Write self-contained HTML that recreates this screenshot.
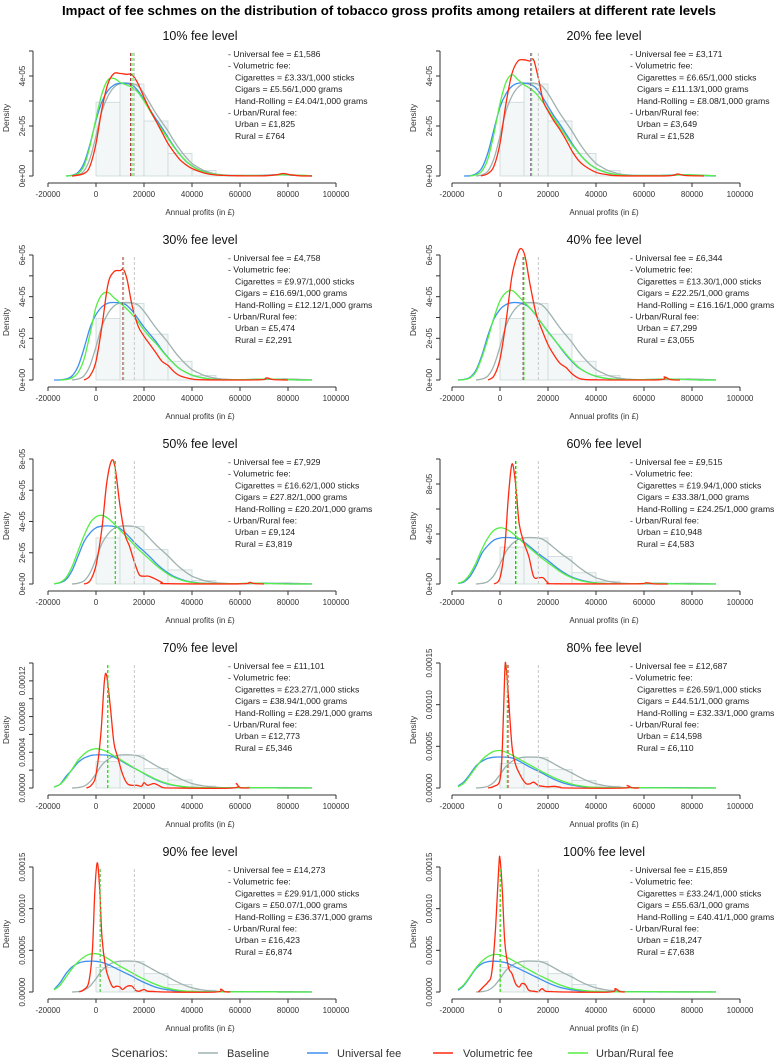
<!DOCTYPE html>
<html><head><meta charset="utf-8">
<style>
html,body{margin:0;padding:0;background:#fff;}
svg{display:block;font-family:"Liberation Sans",sans-serif;}
</style></head>
<body>
<svg id="chart" width="778" height="1060" viewBox="0 0 778 1060" xmlns="http://www.w3.org/2000/svg">
<text x="389" y="15" text-anchor="middle" font-size="12.5" font-weight="bold" textLength="654" lengthAdjust="spacingAndGlyphs">Impact of fee schmes on the distribution of tobacco gross profits among retailers at different rate levels</text>
<g id="panels"></g>
<g>
<text x="168" y="1057" text-anchor="end" font-size="12" fill="#333">Scenarios:</text>
<line x1="198" y1="1053" x2="218" y2="1053" stroke="#9fb2b0" stroke-width="1.5"/>
<text x="227" y="1057" font-size="11" fill="#333">Baseline</text>
<line x1="307" y1="1053" x2="328" y2="1053" stroke="#3d8ff0" stroke-width="1.5"/>
<text x="337" y="1057" font-size="11" fill="#333">Universal fee</text>
<line x1="433" y1="1053" x2="453" y2="1053" stroke="#ff2a10" stroke-width="1.5"/>
<text x="463" y="1057" font-size="11" fill="#333">Volumetric fee</text>
<line x1="568" y1="1053" x2="588" y2="1053" stroke="#55ee44" stroke-width="1.5"/>
<text x="596" y="1057" font-size="11" fill="#333">Urban/Rural fee</text>
</g>
</svg>
<script>
// x grid for baseline / universal / urban-rural densities (£)
const grid = [-17500,-15000,-12500,-10000,-7500,-5000,-2500,0,2500,5000,7500,10000,12500,15000,17500,20000,22500,25000,27500,30000,32500,35000,37500,40000,42500,45000,47500,50000,52500,55000,57500,60000,62500,65000,67500,70000,72500,75000,77500,80000,82500,85000,87500,90000];
// densities in units of 1e-05
const baseline = [0,0,0,0,0.05,0.2,0.7,1.6,2.6,3.2,3.55,3.7,3.72,3.7,3.6,3.3,2.9,2.5,2.15,1.8,1.4,1.05,0.75,0.5,0.35,0.22,0.14,0.08,0.05,0.03,0.02,0.02,0.02,0.02,0.02,0.02,0.03,0.04,0.05,0.05,0.04,0.03,0.02,0.01];
const histEdges = [0,10000,20000,30000,40000,50000,60000];
const histHeights = [2.95,3.68,2.2,0.9,0.22,0.02];

const feeLevels = ["10%","20%","30%","40%","50%","60%","70%","80%","90%","100%"];
const universalFee = ["£1,586","£3,171","£4,758","£6,344","£7,929","£9,515","£11,101","£12,687","£14,273","£15,859"];
const cigFee = ["£3.33","£6.65","£9.97","£13.30","£16.62","£19.94","£23.27","£26.59","£29.91","£33.24"];
const cigarFee = ["£5.56","£11.13","£16.69","£22.25","£27.82","£33.38","£38.94","£44.51","£50.07","£55.63"];
const hrFee = ["£4.04","£8.08","£12.12","£16.16","£20.20","£24.25","£28.29","£32.33","£36.37","£40.41"];
const urbanFee = ["£1,825","£3,649","£5,474","£7,299","£9,124","£10,948","£12,773","£14,598","£16,423","£18,247"];
const ruralFee = ["£764","£1,528","£2,291","£3,055","£3,819","£4,583","£5,346","£6,110","£6,874","£7,638"];

const yMax = [5,5,6,6,8,10,14,15,15,15];
const baselineMean = 16000;
const universalMean = [14414,12829,11242,9656,8071,6485,4899,3313,1727,141];
const volumetricMean = [14500,13000,11300,9700,8100,6500,4900,3300,1700,150];
const urbanMean = [15400,13200,11500,10000,8000,6700,5000,3000,1700,150];

const universal = [
[0,0,0,0.03,0.14,0.51,1.27,2.23,2.98,3.42,3.64,3.71,3.71,3.64,3.41,3.05,2.65,2.28,1.93,1.55,1.18,0.86,0.59,0.41,0.27,0.17,0.1,0.06,0.04,0.02,0.02,0.02,0.02,0.02,0.02,0.03,0.04,0.05,0.05,0.04,0.03,0.02,0.01,0],
[0,0,0.01,0.09,0.33,0.94,1.87,2.76,3.29,3.59,3.71,3.72,3.67,3.52,3.19,2.79,2.4,2.06,1.69,1.31,0.97,0.68,0.46,0.31,0.2,0.12,0.07,0.045,0.03,0.02,0.02,0.02,0.02,0.02,0.023,0.033,0.043,0.05,0.047,0.037,0.027,0.017,0.007,0],
[0,0.005,0.05,0.19,0.65,1.51,2.5,3.14,3.52,3.69,3.72,3.7,3.61,3.33,2.94,2.54,2.19,1.84,1.44,1.09,0.78,0.53,0.37,0.23,0.15,0.09,0.05,0.03,0.02,0.02,0.02,0.02,0.02,0.03,0.04,0.05,0.05,0.04,0.03,0.02,0.01,0,0,0],
[0,0.03,0.13,0.47,1.2,2.15,2.93,3.39,3.62,3.71,3.71,3.65,3.45,3.1,2.7,2.33,1.96,1.58,1.21,0.89,0.61,0.43,0.28,0.18,0.11,0.065,0.04,0.025,0.02,0.02,0.02,0.02,0.025,0.035,0.045,0.05,0.045,0.035,0.025,0.015,0,0,0,0],
[0.01,0.08,0.28,0.85,1.77,2.7,3.26,3.6,3.7,3.72,3.68,3.55,3.23,2.83,2.43,2.09,1.73,1.33,0.99,0.71,0.48,0.32,0.2,0.13,0.07,0.045,0.03,0.02,0.02,0.02,0.02,0.02,0.03,0.04,0.05,0.05,0.04,0.03,0.02,0.01,0,0,0,0],
[0.04,0.17,0.6,1.43,2.48,3.09,3.51,3.68,3.72,3.7,3.62,3.36,2.98,2.58,2.22,1.87,1.48,1.12,0.81,0.55,0.38,0.25,0.16,0.09,0.06,0.035,0.02,0.02,0.02,0.02,0.02,0.03,0.04,0.05,0.05,0.04,0.03,0.02,0.01,0,0,0,0,0],
[0.12,0.42,1.3,2.04,2.86,3.35,3.62,3.71,3.71,3.66,3.47,3.12,2.72,2.35,1.99,1.62,1.25,0.92,0.64,0.44,0.29,0.19,0.11,0.07,0.04,0.02,0.02,0.02,0.02,0.02,0.03,0.04,0.05,0.05,0.04,0.03,0.02,0.01,0,0,0,0,0,0],
[0.23,0.76,1.67,2.65,3.22,3.56,3.7,3.72,3.7,3.6,3.3,2.9,2.5,2.15,1.8,1.4,1.05,0.75,0.5,0.35,0.22,0.14,0.08,0.05,0.03,0.02,0.02,0.02,0.02,0.02,0.02,0.03,0.04,0.05,0.05,0.04,0.03,0.02,0.01,0,0,0,0,0],
[0.3,1.1,2.2,3.0,3.45,3.65,3.7,3.68,3.55,3.3,2.95,2.6,2.25,1.9,1.5,1.15,0.84,0.57,0.39,0.26,0.16,0.1,0.06,0.035,0.02,0.02,0.02,0.02,0.02,0.02,0.03,0.04,0.05,0.05,0.04,0.03,0.02,0.01,0,0,0,0,0,0],
[0.2,0.8,1.8,2.8,3.4,3.65,3.7,3.65,3.5,3.2,2.85,2.5,2.15,1.8,1.45,1.1,0.8,0.55,0.38,0.25,0.16,0.1,0.06,0.04,0.02,0.02,0.02,0.02,0.03,0.04,0.04,0.03,0.02,0.01,0,0,0,0,0,0,0,0,0,0]
];
const urbanRural = [
[0,0,0,0.02,0.1,0.4,1.2,2.3,3.3,3.85,3.9,3.75,3.65,3.55,3.35,3.0,2.6,2.2,1.85,1.5,1.15,0.85,0.6,0.4,0.26,0.16,0.1,0.06,0.04,0.02,0.02,0.02,0.02,0.02,0.02,0.02,0.03,0.04,0.05,0.05,0.04,0.03,0.02,0.01],
[0,0,0,0.05,0.2,0.7,1.7,2.9,3.75,4.05,3.85,3.65,3.5,3.3,3.0,2.65,2.3,1.95,1.6,1.25,0.95,0.68,0.46,0.31,0.2,0.12,0.07,0.045,0.03,0.02,0.02,0.02,0.02,0.02,0.02,0.025,0.035,0.045,0.05,0.045,0.035,0.025,0.015,0.005],
[0,0,0.02,0.1,0.35,1.0,2.2,3.5,4.1,4.2,3.95,3.7,3.45,3.15,2.8,2.4,2.05,1.75,1.4,1.07,0.78,0.53,0.37,0.23,0.15,0.09,0.05,0.03,0.02,0.02,0.02,0.02,0.02,0.03,0.04,0.05,0.05,0.04,0.03,0.02,0.01,0,0,0],
[0,0.02,0.1,0.4,1.1,2.0,3.0,3.8,4.2,4.3,4.05,3.75,3.45,3.1,2.7,2.3,1.95,1.6,1.25,0.92,0.64,0.43,0.28,0.18,0.11,0.07,0.04,0.03,0.02,0.02,0.02,0.02,0.025,0.035,0.045,0.05,0.045,0.035,0.025,0.015,0.005,0,0,0],
[0.02,0.1,0.4,1.1,2.1,3.1,3.9,4.3,4.4,4.2,3.85,3.45,3.05,2.65,2.25,1.9,1.55,1.2,0.9,0.63,0.43,0.28,0.17,0.1,0.06,0.04,0.03,0.02,0.02,0.02,0.02,0.03,0.04,0.05,0.05,0.04,0.03,0.02,0.01,0,0,0,0,0],
[0.05,0.25,0.8,1.7,2.8,3.7,4.3,4.5,4.4,4.1,3.7,3.25,2.85,2.45,2.05,1.7,1.35,1.0,0.72,0.5,0.33,0.21,0.13,0.08,0.05,0.03,0.02,0.02,0.02,0.02,0.03,0.04,0.05,0.05,0.04,0.03,0.02,0.01,0,0,0,0,0,0],
[0.1,0.4,1.1,2.1,3.1,3.8,4.25,4.4,4.3,4.0,3.6,3.2,2.8,2.4,2.0,1.65,1.3,0.98,0.7,0.48,0.32,0.2,0.12,0.07,0.05,0.03,0.02,0.02,0.02,0.02,0.03,0.04,0.05,0.05,0.04,0.03,0.02,0.01,0,0,0,0,0,0],
[0.15,0.6,1.5,2.5,3.4,4.0,4.4,4.5,4.3,3.95,3.55,3.15,2.75,2.35,1.95,1.6,1.25,0.95,0.68,0.46,0.3,0.19,0.11,0.07,0.04,0.03,0.02,0.02,0.02,0.03,0.04,0.05,0.04,0.03,0.02,0.01,0,0,0,0,0,0,0,0],
[0.25,0.8,1.8,2.8,3.6,4.2,4.55,4.6,4.4,4.0,3.55,3.1,2.7,2.3,1.9,1.55,1.2,0.9,0.64,0.44,0.29,0.18,0.11,0.07,0.04,0.03,0.02,0.02,0.02,0.02,0.02,0.03,0.04,0.05,0.04,0.03,0.02,0.01,0,0,0,0,0,0],
[0.3,0.9,1.9,2.9,3.7,4.25,4.5,4.45,4.2,3.85,3.45,3.0,2.6,2.2,1.85,1.5,1.15,0.85,0.6,0.42,0.28,0.18,0.11,0.07,0.04,0.03,0.02,0.02,0.02,0.02,0.03,0.04,0.05,0.04,0.03,0.02,0.01,0,0,0,0,0,0,0]
];
// volumetric fee densities (own x knots)
const volX = [
[-10000,-5000,-2500,0,2500,5000,7500,10000,12500,15000,17500,20000,22500,25000,27500,30000,32500,35000,37500,40000,45000,50000,60000,70000,75000,78000,81000,85000,90000],
[-8000,-5000,-2500,0,2500,5000,7500,10000,12500,14000,16000,18000,20000,22500,25000,27500,30000,32500,35000,40000,45000,50000,70000,74000,77000,85000],
[-5000,-2500,0,2500,5000,7500,10000,11500,13000,15000,17500,20000,22500,25000,27500,30000,32500,35000,40000,45000,68000,71000,74000,80000],
[-5000,-2500,0,2500,5000,7500,9000,10500,12500,15000,17500,20000,22500,25000,27500,30000,32500,35000,40000,66000,68500,71000,75000],
[-5000,-2500,0,2500,4500,6500,8000,10000,12000,14000,16000,18000,20000,22000,25000,27500,30000,60000,64000,66000,70000],
[-2500,0,2000,3500,5000,6500,8000,10000,12000,14000,16000,18000,20000,23000,56000,61000,64000,70000],
[-4000,-2000,0,2000,3500,4500,6000,7500,9000,11000,13000,15000,17000,19000,20000,21500,24000,26000,28000,32000,57000,58500,60000,64000],
[-5000,-2500,0,1000,2000,2500,3500,5000,6500,8000,9500,11000,12500,14000,16000,18000,20000,22500,25000,28000,52000,53000,55000,58000],
[-7000,-5000,-3000,-1500,-500,500,1500,2500,4000,5500,7000,8500,10000,11000,13000,15000,16500,18000,20000,21500,25000,30000,50000,52000,53500,56000],
[-9000,-7000,-5000,-3500,-2000,-500,0,1000,2000,3500,5000,6500,8000,9000,10500,12000,14000,16000,17500,19000,22000,28000,46000,48000,50000,52000]
];
const volY = [
[0,0.1,0.4,1.3,2.7,3.7,4.1,4.1,4.07,4.05,3.7,3.15,2.65,2.2,1.75,1.3,0.95,0.65,0.45,0.3,0.12,0.04,0.01,0.01,0.05,0.1,0.05,0.01,0],
[0,0.1,0.4,1.3,2.9,4.1,4.6,4.65,4.6,4.65,3.9,3.0,2.6,2.2,1.85,1.45,1.0,0.65,0.42,0.15,0.05,0.01,0.01,0.08,0.02,0],
[0,0.2,0.9,2.6,4.6,5.2,5.25,5.3,4.8,3.6,2.6,2.1,1.7,1.3,0.9,0.7,0.4,0.2,0.05,0.01,0.01,0.1,0.02,0],
[0,0.2,1.0,2.8,5.0,6.1,6.3,5.9,4.6,3.2,2.4,1.7,1.2,0.8,0.6,0.3,0.1,0.03,0.01,0.01,0.15,0.02,0],
[0,0.2,1.2,3.6,6.5,7.9,7.4,5.0,3.2,2.4,1.4,0.6,0.5,0.5,0.3,0.1,0.02,0.01,0.1,0.03,0],
[0,0.5,3.0,7.0,9.6,8.0,4.8,3.3,2.2,0.6,0.5,0.5,0.1,0.02,0.01,0.1,0.01,0],
[0,0.3,1.5,6.0,12.0,12.5,9.0,5.0,3.5,1.6,0.5,0.3,0.3,0.2,0.6,0.3,0.5,0.3,0.05,0,0,0.5,0.05,0],
[0,0.2,1.0,5.0,14.0,14.6,11.0,5.0,2.8,1.8,1.0,0.5,0.5,0.7,0.3,0.2,0.15,0.2,0.1,0,0,0.3,0.03,0],
[0,0.3,1.2,5.0,12.0,15.5,12.5,6.5,3.0,1.5,0.6,0.7,0.6,0.3,0.7,0.7,0.2,0.1,0.3,0.1,0.05,0,0,0.35,0.05,0],
[0,0.6,1.2,2.2,7.0,15.0,16.0,12.0,6.0,3.0,2.2,1.0,0.6,1.0,0.9,0.2,0.1,0.05,0.4,0.1,0.05,0,0,0.4,0.05,0]
];
const yTicks = [[0,1,2,3,4,5],[0,1,2,3,4,5],[0,1,2,3,4,5,6],[0,1,2,3,4,5,6],[0,2,4,6,8],[0,2,4,6,8,10],[0,2,4,6,8,10,12,14],[0,5,10,15],[0,5,10,15],[0,5,10,15]];
const yLabelVals = [[0,2,4],[0,2,4],[0,2,4,6],[0,2,4,6],[0,2,4,6,8],[0,4,8],[0,4,8,12],[0,5,10,15],[0,5,10,15],[0,5,10,15]];
const xTicks = [-20000,0,20000,40000,60000,80000,100000];

const NS = "http://www.w3.org/2000/svg";
const root = document.getElementById("panels");
function mk(tag, attrs, parent){
  const e = document.createElementNS(NS, tag);
  for (const k in attrs) e.setAttribute(k, attrs[k]);
  parent.appendChild(e);
  return e;
}
function smoothPath(pts){
  let d = "M" + pts[0][0].toFixed(1) + "," + pts[0][1].toFixed(1);
  for (let i = 0; i < pts.length - 1; i++){
    const p0 = pts[Math.max(0,i-1)], p1 = pts[i], p2 = pts[i+1], p3 = pts[Math.min(pts.length-1,i+2)];
    const c1x = p1[0] + (p2[0]-p0[0])/6, c1y = p1[1] + (p2[1]-p0[1])/6;
    const c2x = p2[0] - (p3[0]-p1[0])/6, c2y = p2[1] - (p3[1]-p1[1])/6;
    d += " C" + c1x.toFixed(1)+","+c1y.toFixed(1)+" "+c2x.toFixed(1)+","+c2y.toFixed(1)+" "+p2[0].toFixed(1)+","+p2[1].toFixed(1);
  }
  return d;
}
function fmtLabel(v, p){
  if (p < 6) return v === 0 ? "0e+00" : v + "e-05";
  return (v/100000).toFixed(5);
}

for (let p = 0; p < 10; p++){
  const col = p % 2, row = Math.floor(p / 2);
  const yOff = row * 204;
  const x0 = col === 0 ? 96 : 500;
  const axisX = col === 0 ? 33 : 440;
  const zeroY = 176 + yOff;
  const X = v => x0 + v * 0.0024;
  const Y = d => zeroY - d / yMax[p] * 125;
  const cx = col === 0 ? 200 : 604;

  const g = mk("g", {}, root);
  
  

  const t = mk("text", {x: cx, y: 40 + yOff, "text-anchor": "middle", "font-size": 12.5, fill: "#111"}, g);
  
  
  t.textContent = feeLevels[p] + " fee level";

  for (let i = 0; i < histHeights.length; i++){
    const r = mk("rect", {x: X(histEdges[i]), y: Y(histHeights[i]), width: X(histEdges[i+1]) - X(histEdges[i]), height: zeroY - Y(histHeights[i]), fill: "#f3f7f7", stroke: "#cbd8d8", "stroke-width": 0.8}, g);
    
    
  }

  const xa = mk("line", {x1: X(-20000), x2: X(100000), y1: 183 + yOff, y2: 183 + yOff, stroke: "#333", "stroke-width": 1}, g);
  
  
  xTicks.forEach(v => {
    mk("line", {x1: X(v), x2: X(v), y1: 183 + yOff, y2: 187 + yOff, stroke: "#333"}, g);
    const tl = mk("text", {x: X(v), y: 197 + yOff, "text-anchor": "middle", "font-size": 8, fill: "#333"}, g);
    
    
    tl.textContent = v;
  });
  const xt = mk("text", {x: cx, y: 215 + yOff, "text-anchor": "middle", "font-size": 8, fill: "#333"}, g);
  
  
  xt.textContent = "Annual profits (in £)";

  const ya = mk("line", {x1: axisX, x2: axisX, y1: Y(0), y2: Y(yTicks[p][yTicks[p].length-1]), stroke: "#333"}, g);
  
  
  yTicks[p].forEach(v => mk("line", {x1: axisX - 4, x2: axisX, y1: Y(v), y2: Y(v), stroke: "#333"}, g));
  yLabelVals[p].forEach(v => {
    const yl = mk("text", {x: 0, y: 0, "text-anchor": "middle", "font-size": 8, fill: "#333", transform: "translate(" + (axisX - 8) + "," + Y(v) + ") rotate(-90)"}, g);
    
    
    yl.textContent = fmtLabel(v, p);
  });
  const yt = mk("text", {x: 0, y: 0, "text-anchor": "middle", "font-size": 8.5, fill: "#333", transform: "translate(" + (axisX - 24) + "," + (zeroY - 58) + ") rotate(-90)"}, g);
  
  
  yt.textContent = "Density";

  function gridPts(arr){
    let s = 0;
    while (s < arr.length - 1 && !(arr[s+1] > 0)) s++;
    const pts = [];
    for (let i = s; i < grid.length; i++) pts.push([X(grid[i]), Y(arr[i] || 0)]);
    return pts;
  }
  const gp = mk("path", {d: smoothPath(gridPts(baseline)), fill: "none", stroke: "#9fb2b0", "stroke-width": 1.3}, g);
  
  
  const bp = mk("path", {d: smoothPath(gridPts(universal[p])), fill: "none", stroke: "#3d8ff0", "stroke-width": 1.3}, g);
  
  
  const gr = mk("path", {d: smoothPath(gridPts(urbanRural[p])), fill: "none", stroke: "#55ee44", "stroke-width": 1.3}, g);
  
  
  const rp = mk("path", {d: smoothPath(volX[p].map((v,i) => [X(v), Y(volY[p][i])])), fill: "none", stroke: "#ff2a10", "stroke-width": 1.3}, g);
  
  

  const top = Y(yMax[p]);
  const meanDefs = [[baselineMean, "#cccccc", "baseline-mean-line"], [universalMean[p], "#3d8ff0", "universal-mean-line"], [volumetricMean[p], "#cc2010", "volumetric-mean-line"], [urbanMean[p], "#55ee44", "urban-rural-mean-line"]];
  meanDefs.forEach(m => {
    const l = mk("line", {x1: X(m[0]), x2: X(m[0]), y1: zeroY, y2: top, stroke: m[1], "stroke-width": 1.1, "stroke-dasharray": "3,2"}, g);
    
    
  });

  const ax = col === 0 ? 228 : 630;
  const lines = [
    ["- Universal fee = " + universalFee[p], 0],
    ["- Volumetric fee:", 0],
    ["Cigarettes = " + cigFee[p] + "/1,000 sticks", 7],
    ["Cigars = " + cigarFee[p] + "/1,000 grams", 7],
    ["Hand-Rolling = " + hrFee[p] + "/1,000 grams", 7],
    ["- Urban/Rural fee:", 0],
    ["Urban = " + urbanFee[p], 7],
    ["Rural = " + ruralFee[p], 7]
  ];
  lines.forEach((ln, i) => {
    const at = mk("text", {x: ax + ln[1], y: 57 + yOff + i * 11.7, "font-size": 8.7, fill: "#222"}, g);
    
    
    at.textContent = ln[0];
  });
}
</script>
</body></html>
